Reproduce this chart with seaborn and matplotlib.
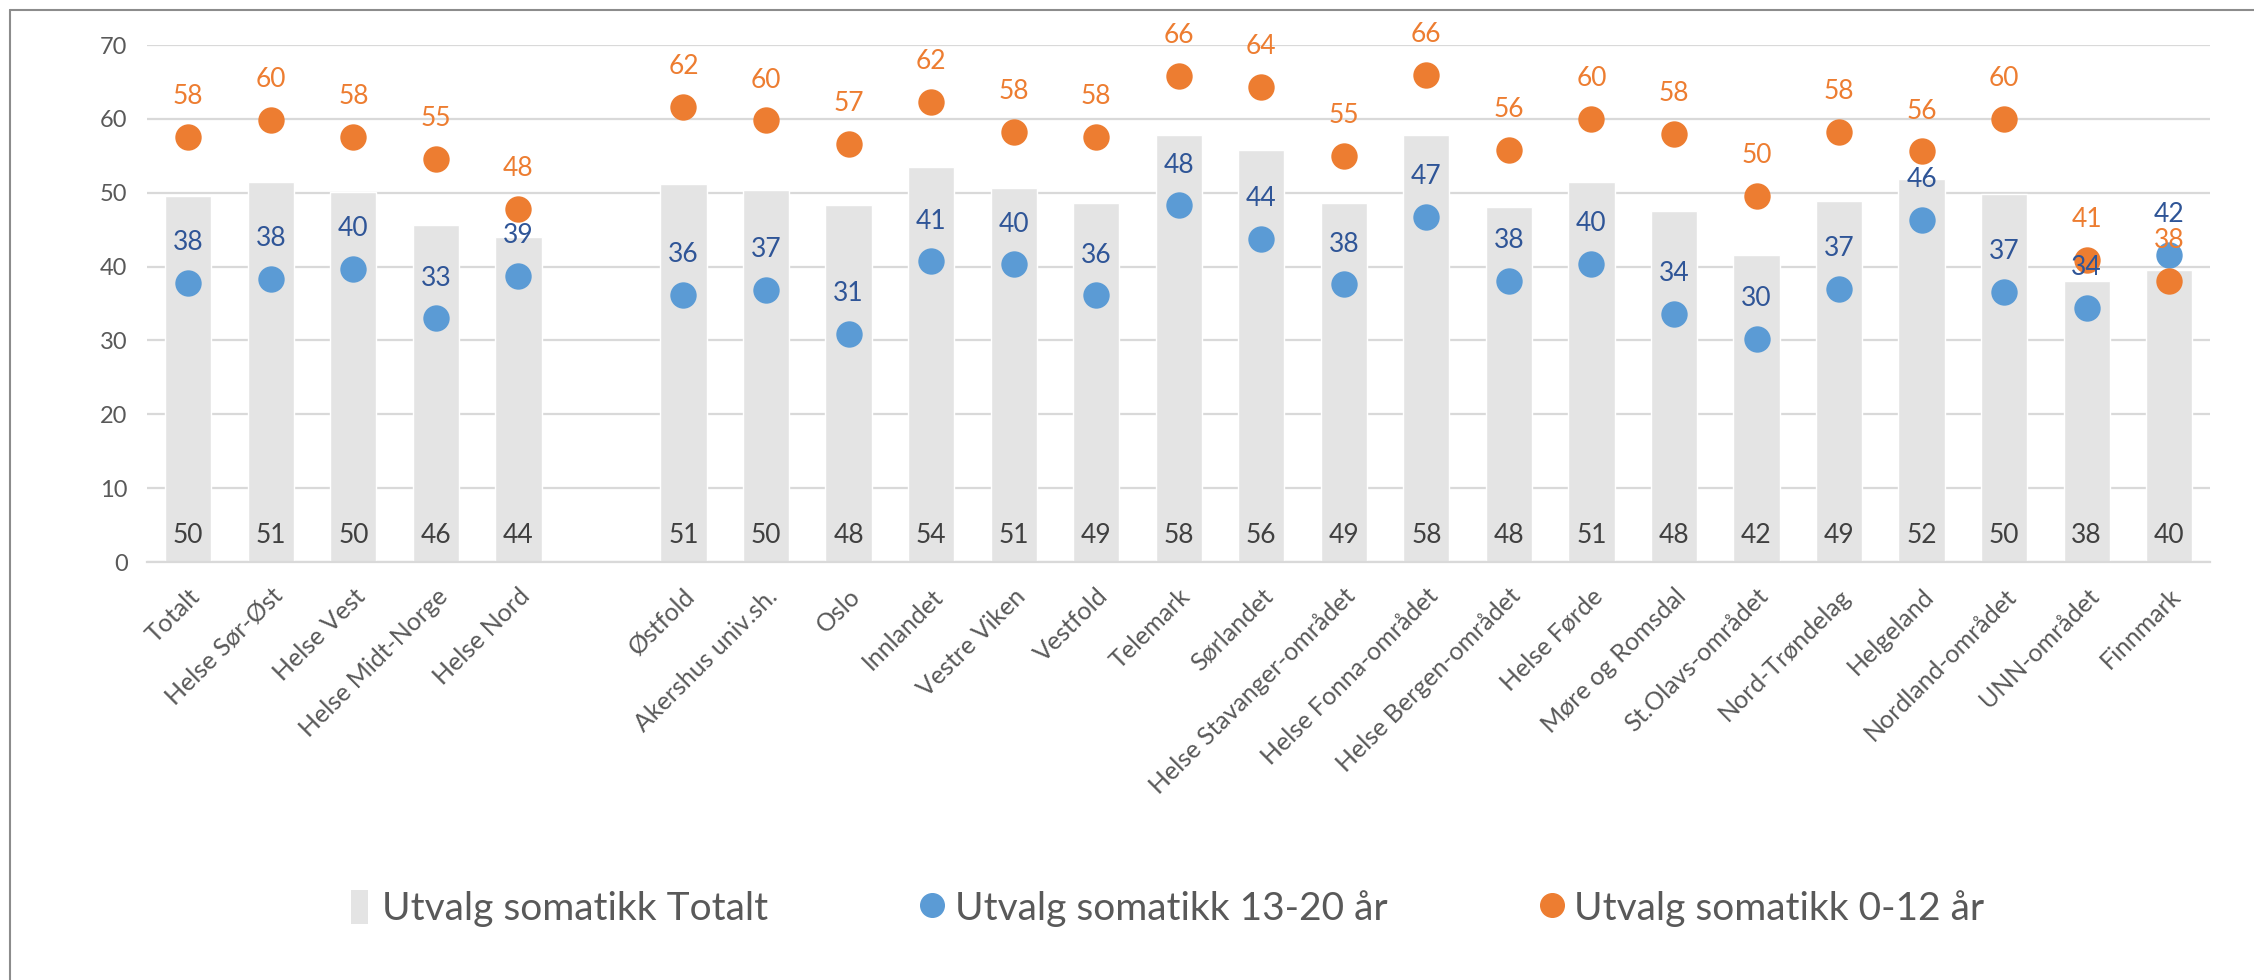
import pandas as pd
import numpy as np
import matplotlib
matplotlib.use("Agg")
import matplotlib.pyplot as plt
import seaborn as sns
from matplotlib.patches import Patch
from matplotlib.lines import Line2D

# --------------------------
# Data
# --------------------------
categories = [
    "Totalt", "Helse Sør-Øst", "Helse Vest", "Helse Midt-Norge", "Helse Nord",
    " ",
    "Østfold", "Akershus univ.sh.", "Oslo", "Innlandet", "Vestre Viken",
    "Vestfold", "Telemark", "Sørlandet", "Helse Stavanger-området",
    "Helse Fonna-området", "Helse Bergen-området", "Helse Førde",
    "Møre og Romsdal", "St.Olavs-området", "Nord-Trøndelag", "Helgeland",
    "Nordland-området", "UNN-området", "Finnmark",
]
totalt = [
    49.6, 51.4, 50.1, 45.6, 44.0,
    np.nan,
    51.2, 50.4, 48.4, 53.5, 50.7, 48.6, 57.8, 55.8, 48.6, 57.8, 48.1,
    51.4, 47.6, 41.6, 48.9, 51.8, 49.9, 38.1, 39.6,
]
age_13_20 = [
    37.8, 38.3, 39.7, 33.0, 38.7,
    np.nan,
    36.2, 36.8, 30.9, 40.7, 40.3, 36.1, 48.3, 43.8, 37.6, 46.7, 38.1,
    40.4, 33.6, 30.2, 37.0, 46.3, 36.6, 34.4, 41.6,
]
age_0_12 = [
    57.6, 59.9, 57.6, 54.6, 47.8,
    np.nan,
    61.6, 59.8, 56.6, 62.3, 58.2, 57.6, 65.8, 64.3, 55.0, 66.0, 55.8,
    60.0, 58.0, 49.6, 58.2, 55.6, 60.0, 40.9, 38.1,
]
series_names = ["Utvalg somatikk Totalt", "Utvalg somatikk 13-20 år", "Utvalg somatikk 0-12 år"]

df = pd.DataFrame({
    "kategori": categories,
    "totalt": totalt,
    "a13_20": age_13_20,
    "a0_12": age_0_12,
})

# --------------------------
# Style
# --------------------------
BAR_COLOR = "#E4E4E4"
BLUE = "#5B9BD5"
ORANGE = "#ED7D31"
BLUE_TXT = "#2F5597"
GRAY_TXT = "#595959"

sns.set_style("white")
plt.rcParams["font.family"] = ["Lato", "DejaVu Sans"]

fig = plt.figure(figsize=(22.54, 9.8), dpi=100)
ax = fig.add_axes([0.0652, 0.4265, 0.9155, 0.5275])

sns.barplot(data=df, x="kategori", y="totalt", order=categories,
            color=BAR_COLOR, width=0.56, errorbar=None, saturation=1, ax=ax, zorder=2)
sns.stripplot(data=df, x="kategori", y="a13_20", order=categories, jitter=False,
              color=BLUE, size=19, linewidth=0, ax=ax, zorder=3)
sns.stripplot(data=df, x="kategori", y="a0_12", order=categories, jitter=False,
              color=ORANGE, size=19, linewidth=0, ax=ax, zorder=4)

# data labels
for i, cat in enumerate(categories):
    if cat.strip() == "":
        continue
    ax.text(i, 3.6, f"{totalt[i]:.0f}", ha="center", va="center",
            fontsize=19, color="#404040", zorder=5)
    ax.annotate(f"{age_13_20[i]:.0f}", (i, age_13_20[i]), xytext=(0, 29),
                textcoords="offset points", ha="center", va="center",
                fontsize=19, color=BLUE_TXT, zorder=5)
    ax.annotate(f"{age_0_12[i]:.0f}", (i, age_0_12[i]), xytext=(0, 29),
                textcoords="offset points", ha="center", va="center",
                fontsize=19, color=ORANGE, zorder=5)

ax.set_xlim(-0.5, len(categories) - 0.5)
ax.set_ylim(0, 70)
ax.set_yticks(range(0, 71, 10))
ax.yaxis.grid(True, color="#D9D9D9", linewidth=1.6, zorder=0)
ax.set_axisbelow(True)
for s in ["top", "right", "left"]:
    ax.spines[s].set_visible(False)
ax.spines["bottom"].set_color("#D9D9D9")
ax.spines["bottom"].set_linewidth(1.6)
ax.set_xlabel("")
ax.set_ylabel("")
ax.tick_params(axis="y", length=0, labelsize=17, labelcolor=GRAY_TXT, pad=14)
ax.tick_params(axis="x", length=0, labelsize=18, labelcolor=GRAY_TXT, pad=16)
plt.setp(ax.get_xticklabels(), rotation=45, ha="right", rotation_mode="anchor")

# legend
handles = [
    Patch(facecolor=BAR_COLOR, edgecolor="none"),
    Line2D([], [], marker="o", linestyle="none", markersize=17, color=BLUE),
    Line2D([], [], marker="o", linestyle="none", markersize=17, color=ORANGE),
]
fig.legend(handles, series_names, loc="center", bbox_to_anchor=(0.518, 0.073),
           ncol=3, frameon=False, fontsize=28, labelcolor=GRAY_TXT,
           handlelength=0.45, handleheight=1.0, handletextpad=0.35, columnspacing=4.0)

# outer chart border (top and left visible in reference)
fig.add_artist(Line2D([10 / 2254, 1], [1 - 10 / 980, 1 - 10 / 980],
                      transform=fig.transFigure, color="#8C8C8C", linewidth=1.5))
fig.add_artist(Line2D([10 / 2254, 10 / 2254], [0, 1 - 10 / 980],
                      transform=fig.transFigure, color="#8C8C8C", linewidth=1.5))

fig.savefig("out.png", dpi=100, facecolor="white")
